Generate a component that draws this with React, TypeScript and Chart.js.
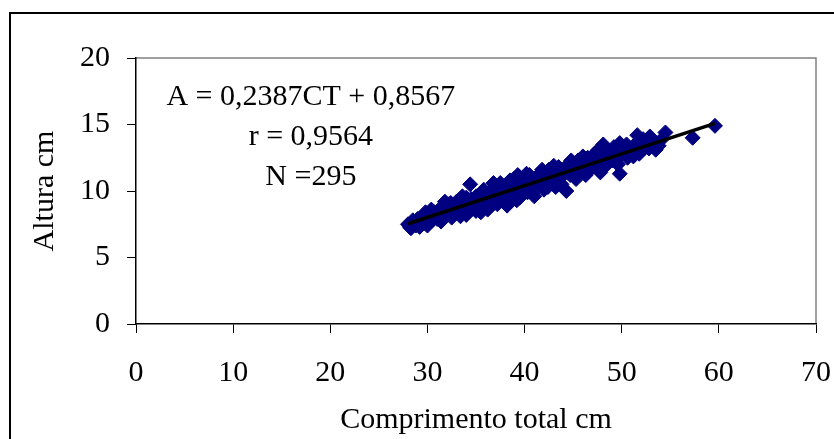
import React, { useEffect, useRef } from "react";
import { Chart, registerables } from "chart.js";
Chart.register(...registerables);

// Comprimento total (cm) of each plotted fish
const lengthCm = [
  28.0, 28.3, 28.5, 28.8, 29.0, 29.2, 29.5, 29.7, 30.0, 30.2, 30.5, 30.7, 31.0, 31.2, 31.5, 31.7,
  32.0, 32.2, 32.5, 32.8, 33.0, 33.2, 33.5, 33.7, 34.0, 34.2, 34.4, 34.5, 34.8, 35.0, 35.2, 35.5,
  35.7, 36.0, 36.2, 36.5, 36.7, 37.0, 37.2, 37.5, 37.7, 38.0, 38.2, 38.5, 38.7, 39.0, 39.2, 39.5,
  39.7, 40.0, 40.3, 40.5, 40.7, 41.0, 41.2, 41.5, 41.7, 42.0, 42.2, 42.5, 42.7, 43.0, 43.2, 43.5,
  43.7, 44.0, 44.3, 44.5, 44.7, 45.0, 45.3, 45.5, 45.8, 46.0, 46.3, 46.5, 47.0, 47.3, 47.6, 47.8,
  48.0, 48.5, 48.8, 49.0, 49.4, 49.8, 50.0, 50.3, 50.6, 51.0, 51.5, 51.8, 52.0, 52.5, 52.8, 53.2,
  53.8, 54.5, 57.3, 59.6,
  29.4, 30.9, 32.6, 33.9, 35.4, 36.9, 38.4, 39.9, 41.4, 42.9, 44.2, 45.6, 46.8, 48.3, 50.8, 52.3,
  30.4, 31.4, 32.4, 33.4, 34.0, 35.0, 35.8, 36.4, 37.4, 38.0, 38.9, 39.5, 40.2, 40.8, 41.8, 42.4,
  43.0, 43.8, 44.8, 45.2, 46.0, 46.6, 47.2, 48.2, 49.2, 49.6, 50.5, 51.2, 52.2, 53.0, 53.5, 54.0,
  51.6, 52.9, 49.8, 48.1, 53.4, 51.9, 28.2, 29.8, 31.8, 33.6, 36.8, 39.3,
];
// Altura (cm) of each plotted fish
const heightCm = [
  7.5, 7.2, 7.8, 7.4, 7.9, 7.3, 8.1, 7.6, 7.4, 8.2, 7.8, 8.4, 7.9, 8.6, 8.1, 8.8,
  8.3, 9.0, 8.0, 8.7, 9.2, 8.4, 8.9, 9.3, 8.2, 8.9, 10.5, 9.4, 8.7, 9.6, 9.0, 8.4,
  9.8, 9.2, 8.6, 10.0, 9.5, 10.3, 9.0, 10.6, 9.7, 10.2, 8.9, 10.8, 9.6, 10.4, 9.3, 11.0,
  10.0, 10.6, 9.9, 11.2, 10.3, 9.6, 11.0, 10.5, 11.4, 10.1, 11.1, 11.6, 10.7, 11.3, 10.3, 11.8,
  11.0, 11.5, 10.0, 12.0, 11.2, 11.8, 10.9, 12.3, 11.5, 12.1, 11.2, 12.5, 11.8, 12.2, 13.1, 11.4,
  12.6, 12.0, 12.9, 12.3, 13.0, 11.3, 12.8, 13.3, 12.5, 13.0, 13.6, 12.8, 13.3, 13.8, 13.2, 13.6,
  13.4, 14.4, 14.0, 14.9,
  7.9, 8.3, 8.6, 9.0, 9.3, 9.7, 10.0, 10.3, 10.7, 11.1, 11.4, 11.7, 12.0, 12.4, 13.0, 13.3,
  8.6, 7.7, 9.1, 8.1, 9.5, 8.5, 10.1, 8.8, 10.4, 9.1, 10.9, 9.5, 11.3, 9.8, 11.6, 10.3,
  11.9, 10.5, 12.3, 11.0, 12.6, 11.5, 12.8, 11.9, 13.3, 12.0, 13.5, 12.6, 13.9, 13.9, 13.1, 13.8,
  14.2, 14.1, 13.6, 13.5, 13.6, 12.9, 7.3, 8.4, 9.2, 9.6, 10.6, 11.2,
];
// Regression line end points (A = 0,2387CT + 0,8567)
const trendX = [28.0, 59.6];
const trendY = [7.54, 15.08];

const xTicks = [0, 10, 20, 30, 40, 50, 60, 70];
const yTicks = [0, 5, 10, 15, 20];
const xTitle = "Comprimento total cm";
const yTitle = "Altura cm";
const equationLines = ["A = 0,2387CT + 0,8567", "r = 0,9564", "N =295"];
const equationAnchor = { x: 18, y: 17.07 };

const FONT = "'Liberation Serif', 'Times New Roman', serif";

export default function App() {
  const ref = useRef<HTMLCanvasElement | null>(null);

  useEffect(() => {
    if (!ref.current) return;
    const scatterData = lengthCm.map((x, i) => ({ x, y: heightCm[i] }));
    const trendData = trendX.map((x, i) => ({ x, y: trendY[i] }));

    const decor = {
      id: "decor",
      beforeDraw(chart: any) {
        const { ctx, chartArea } = chart;
        ctx.save();
        ctx.strokeStyle = "#000";
        ctx.lineWidth = 2;
        ctx.strokeRect(10, 13, 900, 500);
        ctx.strokeStyle = "#808080";
        ctx.lineWidth = 1.5;
        ctx.beginPath();
        ctx.moveTo(chartArea.left, chartArea.top);
        ctx.lineTo(chartArea.right, chartArea.top);
        ctx.lineTo(chartArea.right, chartArea.bottom);
        ctx.stroke();
        ctx.restore();
      },
      afterDraw(chart: any) {
        const { ctx, scales } = chart;
        ctx.save();
        ctx.fillStyle = "#000";
        ctx.font = `30px ${FONT}`;
        ctx.textAlign = "center";
        ctx.textBaseline = "middle";
        const cx = scales.x.getPixelForValue(equationAnchor.x);
        const cy = scales.y.getPixelForValue(equationAnchor.y);
        equationLines.forEach((t, i) => ctx.fillText(t, cx, cy + i * 40));
        ctx.restore();
      },
    };

    const chart = new Chart(ref.current, {
      type: "scatter",
      data: {
        datasets: [
          {
            label: "trend",
            data: trendData,
            showLine: true,
            borderColor: "#000",
            borderWidth: 3.5,
            pointRadius: 0,
            order: 0,
          } as any,
          {
            label: "Altura",
            data: scatterData,
            pointStyle: "rectRot",
            pointRadius: 7.5,
            backgroundColor: "#000080",
            borderColor: "#000080",
            borderWidth: 1,
            order: 1,
          } as any,
        ],
      },
      options: {
        animation: false,
        responsive: false,
        devicePixelRatio: 1,
        layout: { padding: { top: 58, right: 18, left: 0, bottom: 0 } },
        plugins: { legend: { display: false }, tooltip: { enabled: false } },
        scales: {
          x: {
            type: "linear",
            min: 0,
            max: 70,
            afterBuildTicks: (s: any) => {
              s.ticks = xTicks.map((v) => ({ value: v }));
            },
            afterFit: (s: any) => {
              s.height = 115;
              s.paddingLeft = 0;
              s.paddingRight = 0;
            },
            grid: { drawOnChartArea: false, drawTicks: true, tickLength: 9, color: "#000", lineWidth: 1 },
            border: { display: true, color: "#000", width: 1.5 },
            ticks: { color: "#000", font: { family: FONT, size: 30 }, padding: 22, maxRotation: 0 },
            title: { display: true, text: xTitle, color: "#000", font: { family: FONT, size: 30 }, padding: { top: 0, bottom: 1 } },
          },
          y: {
            type: "linear",
            min: 0,
            max: 20,
            afterBuildTicks: (s: any) => {
              s.ticks = yTicks.map((v) => ({ value: v }));
            },
            afterFit: (s: any) => {
              s.width = 136;
              s.paddingTop = 0;
              s.paddingBottom = 0;
            },
            grid: { drawOnChartArea: false, drawTicks: true, tickLength: 9, color: "#000", lineWidth: 1 },
            border: { display: true, color: "#000", width: 1.5 },
            ticks: { color: "#000", font: { family: FONT, size: 30 }, padding: 17 },
            title: { display: true, text: yTitle, color: "#000", font: { family: FONT, size: 30 }, padding: { top: 27, bottom: 0 } },
          },
        },
      },
      plugins: [decor],
    } as any);
    return () => chart.destroy();
  }, []);

  return (
    <div style={{ position: "absolute", left: 0, top: 0, width: 834, height: 439, background: "#fff" }}>
      <canvas ref={ref} width={834} height={439} />
    </div>
  );
}
